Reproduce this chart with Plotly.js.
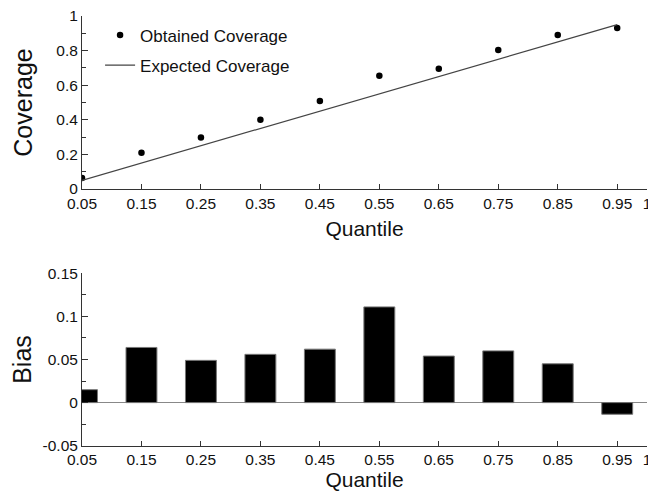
<!DOCTYPE html>
<html>
<head>
<meta charset="utf-8">
<script src="https://cdn.plot.ly/plotly-3.0.1.min.js"></script>
<style>html,body{margin:0;padding:0;background:#fff;}#chart{width:648px;height:497px;}</style>
</head>
<body>
<div id="chart"></div>
<script>
// Data
var quantiles = [0.05, 0.15, 0.25, 0.35, 0.45, 0.55, 0.65, 0.75, 0.85, 0.95];
var obtainedCoverage = [0.064, 0.21, 0.298, 0.40, 0.509, 0.655, 0.695, 0.803, 0.89, 0.93];
var expectedCoverage = [0.05, 0.15, 0.25, 0.35, 0.45, 0.55, 0.65, 0.75, 0.85, 0.95];
var bias = [0.015, 0.064, 0.049, 0.056, 0.062, 0.111, 0.054, 0.060, 0.045, -0.0135];
var xTickVals = [0.05, 0.15, 0.25, 0.35, 0.45, 0.55, 0.65, 0.75, 0.85, 0.95, 1];
var xTickText = ['0.05', '0.15', '0.25', '0.35', '0.45', '0.55', '0.65', '0.75', '0.85', '0.95', '1'];
var covTickVals = [0, 0.2, 0.4, 0.6, 0.8, 1];
var covTickText = ['0', '0.2', '0.4', '0.6', '0.8', '1'];
var biasTickVals = [-0.05, 0, 0.05, 0.1, 0.15];
var biasTickText = ['-0.05', '0', '0.05', '0.1', '0.15'];

var FONT = 'Liberation Sans, Arial, Helvetica, sans-serif';
var AX = '#333';

var traces = [
  {x: quantiles, y: obtainedCoverage, type: 'scatter', mode: 'markers', name: 'Obtained Coverage',
   marker: {color: '#000', size: 6.5}, xaxis: 'x', yaxis: 'y', legendgroup: 'a'},
  {x: quantiles, y: expectedCoverage, type: 'scatter', mode: 'lines', name: 'Expected Coverage',
   line: {color: '#444', width: 1.2}, xaxis: 'x', yaxis: 'y', legendgroup: 'b'},
  {x: quantiles, y: bias, type: 'bar', name: 'Bias', width: 0.052, showlegend: false,
   marker: {color: '#000', line: {color: '#777', width: 1}}, xaxis: 'x2', yaxis: 'y2'}
];

function xax(anchor, standoff) {
  return {
    anchor: anchor, domain: [0, 1], range: [0.05, 1.0001], tickvals: xTickVals, ticktext: xTickText,
    ticks: 'inside', ticklen: 5, tickcolor: AX, showline: true, linecolor: AX, linewidth: 1,
    showgrid: false, zeroline: false, automargin: false, ticklabeloverflow: 'allow',
    tickfont: {family: FONT, size: 15.5, color: '#111'},
    title: {text: 'Quantile', font: {family: FONT, size: 21, color: '#111'}, standoff: standoff}
  };
}

var layout = {
  width: 648, height: 497,
  margin: {l: 82, r: 1, t: 0, b: 0},
  paper_bgcolor: '#fff', plot_bgcolor: '#fff',
  showlegend: true,
  legend: {x: 0.032, y: 0.965, xanchor: 'left', yanchor: 'top', bgcolor: 'rgba(0,0,0,0)',
           font: {family: FONT, size: 17, color: '#111'}, traceorder: 'grouped', tracegroupgap: 5},
  bargap: 0,
  xaxis: xax('y', 10),
  xaxis2: xax('y2', 2),
  yaxis: {
    anchor: 'x', domain: [0.6197, 0.9678], range: [0, 1], tickvals: covTickVals, ticktext: covTickText,
    ticks: 'inside', ticklen: 6, tickcolor: AX, showline: true, linecolor: AX, linewidth: 1,
    showgrid: false, zeroline: false, automargin: false,
    minor: {tickvals: [0.1, 0.3, 0.5, 0.7, 0.9], ticks: 'inside', ticklen: 4, tickcolor: AX, showgrid: false},
    tickfont: {family: FONT, size: 15.5, color: '#111'},
    title: {text: 'Coverage', font: {family: FONT, size: 25, color: '#111'}, standoff: 16}
  },
  yaxis2: {
    anchor: 'x2', domain: [0.1032, 0.4501], range: [-0.05, 0.15], tickvals: biasTickVals, ticktext: biasTickText,
    ticks: 'inside', ticklen: 6, tickcolor: AX, showline: true, linecolor: AX, linewidth: 1,
    showgrid: false, zeroline: true, zerolinecolor: '#888', zerolinewidth: 1, automargin: false,
    minor: {tickvals: [-0.025, 0.025, 0.075, 0.125], ticks: 'inside', ticklen: 4, tickcolor: AX, showgrid: false},
    tickfont: {family: FONT, size: 15.5, color: '#111'},
    title: {text: 'Bias', font: {family: FONT, size: 25, color: '#111'}, standoff: 3}
  }
};

Plotly.newPlot('chart', traces, layout, {staticPlot: true, displayModeBar: false});
</script>
</body>
</html>
